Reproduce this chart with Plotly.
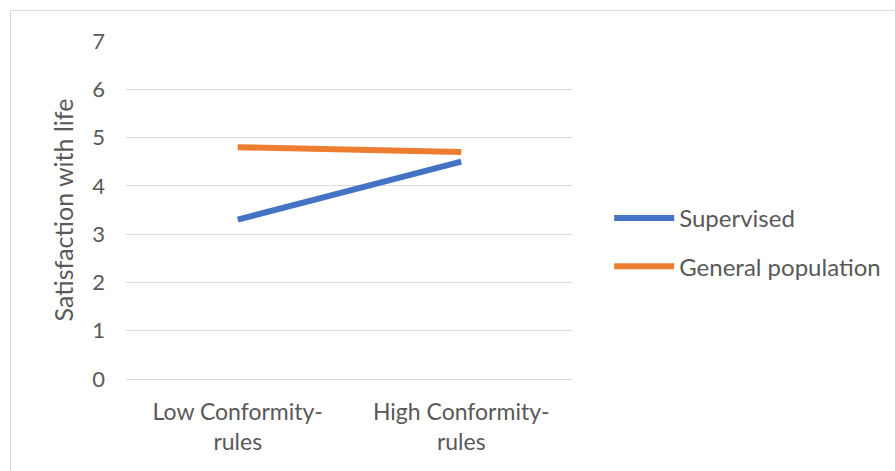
import plotly.graph_objects as go

categories = ["Low Conformity-<br>rules", "High Conformity-<br>rules"]
supervised = [3.3, 4.5]
general_population = [4.8, 4.7]
y_ticks = [0, 1, 2, 3, 4, 5, 6, 7]

FONT = "Lato"
TEXT = "#595959"
GRID = "#D9D9D9"

fig = go.Figure()
fig.add_trace(go.Scatter(x=categories, y=supervised, mode="lines", name="Supervised",
                         legendgroup="sup",
                         line=dict(color="#4472C4", width=6)))
fig.add_trace(go.Scatter(x=categories, y=general_population, mode="lines", name="General population",
                         legendgroup="gen",
                         line=dict(color="#ED7D31", width=6)))

fig.update_layout(
    width=895, height=471,
    margin=dict(l=126, r=322, t=41, b=92, autoexpand=False),
    paper_bgcolor="white", plot_bgcolor="white",
    font=dict(family=FONT, color=TEXT, size=24),
    legend=dict(x=1.081, y=0.404, xanchor="left", yanchor="middle",
                itemwidth=60, traceorder="grouped", tracegroupgap=14,
                font=dict(family=FONT, size=24, color=TEXT),
                bgcolor="rgba(0,0,0,0)"),
    xaxis=dict(type="category", range=[-0.5, 1.5], showgrid=False, zeroline=False,
               showline=False, ticks="", ticklabelstandoff=17,
               tickfont=dict(size=23, color=TEXT)),
    yaxis=dict(range=[0, 7], tickvals=y_ticks, showgrid=True, gridcolor=GRID,
               gridwidth=1, zeroline=True, zerolinecolor=GRID, zerolinewidth=1,
               showline=False, ticks="",
               ticklabelstandoff=20,
               tickfont=dict(size=22, color=TEXT),
               title=dict(text="Satisfaction with life", font=dict(size=25, color=TEXT),
                          standoff=11)),
    shapes=[dict(type="rect", xref="paper", yref="paper",
                 x0=-0.2584, x1=1.9, y0=-0.6, y1=1.0902,
                 line=dict(color=GRID, width=1), fillcolor="rgba(0,0,0,0)",
                 layer="below")],
)

fig.write_html("out.html")
